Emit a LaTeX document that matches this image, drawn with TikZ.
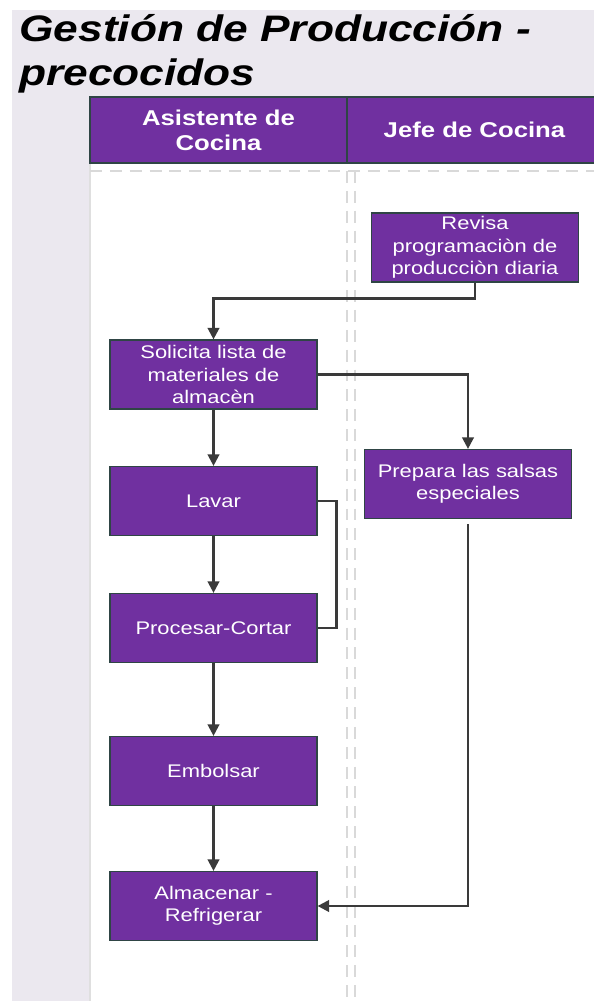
\documentclass[tikz,border=0pt]{standalone}
\usepackage{fontspec}
\setmainfont[FakeStretch=1.2]{Liberation Sans}
\usetikzlibrary{arrows.meta}
\definecolor{morado}{HTML}{7030A0}
\definecolor{borde}{HTML}{2F4545}
\definecolor{fondo}{HTML}{EBE8EF}
\definecolor{flecha}{HTML}{3A3A3A}
\tikzset{
    tarea/.style={draw=borde, line width=0.7pt, fill=morado, text=white, minimum width=4.14cm, minimum height=1.38cm, inner sep=0pt, align=center, font=\fontsize{10.4}{12.8}\selectfont},
    cabecera/.style={draw=borde, line width=0.8pt, fill=morado, text=white, minimum height=1.32cm, inner sep=0pt, align=center, font=\fontsize{12.2}{14.4}\selectfont\bfseries},
    titulo/.style={anchor=base west, inner sep=0pt, font=\fontsize{21}{25}\selectfont\bfseries\itshape},
    flujo/.style={draw=flecha, line width=1.3pt, -{Triangle[length=6.5pt,width=6.5pt]}},
    carril/.style={draw=gray!30, line width=0.8pt, dash pattern=on 6.8pt off 4.5pt}
}
\begin{document}
\begin{tikzpicture}[x=0.02cm, y=-0.02cm]
        \useasboundingbox (0, 0) rectangle (594, 1001);
        % fondo y carriles
        \fill [fondo] (12, 10) rectangle (594, 1001);
        \fill [white] (90, 163) rectangle (594, 1001);
        \draw [gray!25, line width=0.8pt] (90, 163) -- (90, 1001);
        \draw [carril] (90, 171) -- (594, 171);
        \draw [carril] (347, 171) -- (347, 1001);
        \draw [carril] (355, 171) -- (355, 1001);
        % titulo
        \node [titulo] (tit1) at (19, 41) {Gestión de Producción -};
        \node [titulo] (tit2) at (19, 85) {precocidos};
        % encabezados
        \node [cabecera, minimum width=5.14cm] (asistente) at (218.5, 130) {Asistente de\\Cocina};
        \node [cabecera, minimum width=5.1cm] (jefe) at (474.5, 130) {Jefe de Cocina};
        % tareas
        \node [tarea] (revisa) at (475, 247.5) {Revisa\\programaciòn de\\producciòn diaria};
        \node [tarea] (solicita) at (213.5, 374.5) {Solicita lista de\\materiales de\\almacèn};
        \node [tarea] (prepara) at (468, 484) {Prepara las salsas\\especiales};
        \node [tarea] (lavar) at (213.5, 501) {Lavar};
        \node [tarea] (procesar) at (213.5, 628) {Procesar-Cortar};
        \node [tarea] (embolsar) at (213.5, 771) {Embolsar};
        \node [tarea] (almacenar) at (213.5, 906) {Almacenar -\\Refrigerar};
        % conectores
        \draw [flujo] (revisa.south) -- ++(0, 16) -| (solicita.north);
        \draw [flujo] (solicita.east) -| (prepara.north);
        \draw [flujo] (solicita) -- (lavar);
        \draw [flujo] (lavar) -- (procesar);
        \draw [draw=flecha, line width=1.3pt] (lavar.east) -- ++(19, 0) |- (procesar.east);
        \draw [flujo] (procesar) -- (embolsar);
        \draw [flujo] (embolsar) -- (almacenar);
        \draw [flujo] ([yshift=-0.1cm]prepara.south) |- (almacenar.east);
\end{tikzpicture}
\end{document}
